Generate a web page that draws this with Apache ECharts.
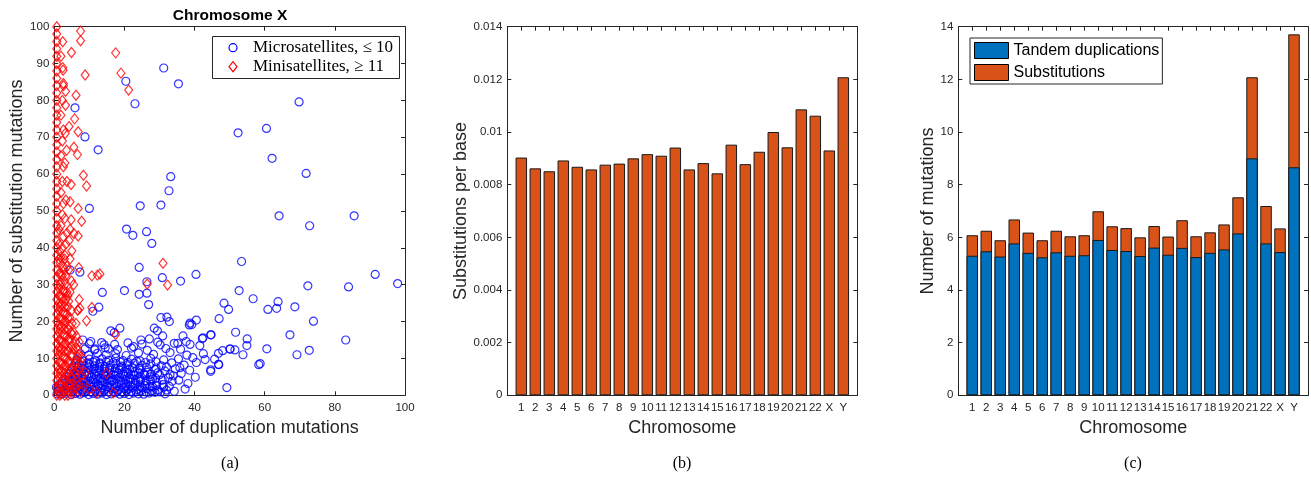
<!DOCTYPE html>
<html>
<head>
<meta charset="utf-8">
<script src="https://cdn.jsdelivr.net/npm/echarts@6/dist/echarts.min.js"></script>
<style>
  html, body { margin: 0; padding: 0; background: #fff; }
  #chart { width: 1311px; height: 478px; }
</style>
</head>
<body>
<div id="chart"></div>
<script>
// ---------------- DATA ----------------
const chromosomes = ['1','2','3','4','5','6','7','8','9','10','11','12','13','14','15','16','17','18','19','20','21','22','X','Y'];

// (b) substitutions per base
const subsPerBase = [0.00903,0.00862,0.00851,0.00892,0.00868,0.00858,0.00876,0.00880,0.00900,0.00916,0.00910,0.00941,
                     0.00858,0.00882,0.00843,0.00952,0.00878,0.00925,0.01000,0.00942,0.01086,0.01062,0.00930,0.01208];

// (c) stacked number of mutations
const tandemDuplications = [5.30,5.47,5.27,5.77,5.41,5.24,5.43,5.30,5.32,5.90,5.52,5.48,
                            5.29,5.61,5.34,5.60,5.25,5.41,5.54,6.15,9.00,5.77,5.44,8.66];
const substitutionsCount = [0.78,0.78,0.62,0.91,0.77,0.65,0.82,0.74,0.76,1.09,0.90,0.87,
                            0.71,0.82,0.69,1.05,0.79,0.78,0.95,1.37,3.08,1.42,0.90,5.05];

// (a) scatter, Chromosome X: [duplication mutations, substitution mutations]
const microsatellites = [
  [31.2,88.8],[35.4,84.5],[20.4,85.2],[23.0,79.1],[5.9,78.0],[69.8,79.6],[8.75,70.1],[12.5,66.6],[52.4,71.2],[60.5,72.4],
  [62.1,64.3],[71.8,60.2],[33.2,59.3],[32.7,55.5],[10.0,50.7],[24.5,51.4],[30.4,51.6],[64.1,48.7],[85.5,48.7],[72.8,46.0],
  [20.6,45.1],[26.3,44.4],[22.4,43.4],[27.8,41.2],[4.5,34.0],[7.3,33.4],[24.2,34.7],[53.4,36.3],[40.4,32.8],[30.8,31.9],
  [36.0,31.0],[91.5,32.8],[97.9,30.3],[72.3,29.7],[83.9,29.4],[26.4,30.8],[26.4,27.7],[24.2,27.4],[20.0,28.4],[13.7,27.9],
  [52.7,28.4],[56.7,26.2],[26.9,24.6],[48.4,25.0],[49.7,23.3],[63.8,25.4],[63.4,23.6],[60.9,23.3],[68.6,24.0],[12.7,23.9],
  [11.0,22.8],[30.4,21.1],[32.1,21.2],[32.8,20.0],[38.7,19.6],[39.2,19.2],[40.5,20.4],[47.0,20.8],[73.9,20.1],[67.2,16.4],
  [83.1,15.0],[51.7,17.1],[44.6,16.4],[42.2,15.4],[55.0,15.3],[54.9,13.5],[60.6,12.6],[50.1,12.5],[51.5,12.3],[53.8,11.0],
  [69.2,11.0],[72.7,12.2],[46.8,11.4],[46.8,8.4],[58.3,8.3],[58.7,8.6],[44.6,6.9],[49.2,2.1],[37.3,1.7],[38.1,3.2],
  [33.9,5.3],[40.2,4.9],[38.5,19.1],[16.1,17.5],[18.7,18.2],[17.1,17.0],[8.1,15.0],[10.4,14.6],[11.6,12.6],[14.2,13.7],
  [15.4,12.6],[22.6,13.2],[24.7,15.0],[27.1,15.3],[28.5,18.2],[29.4,17.5],[30.9,16.1],[30.2,13.7],[36.7,16.1],[37.6,14.6],
  [35.2,14.1],[38.7,13.8],[42.4,15.6],[44.7,16.4],[41.5,13.5],[45.7,9.8],[46.9,8.3],[44.6,6.5],[48.0,12.1],[50.1,12.6],
  [2.1,0.3],[3.4,0.6],[4.8,0.2],[6.1,0.5],[7.3,0.3],[8.6,0.7],[9.8,0.2],[11.1,0.5],[12.3,0.3],[13.6,0.6],[14.9,0.2],[16.2,0.4],
  [17.4,0.7],[18.7,0.3],[20.0,0.5],[21.3,0.2],[22.6,0.6],[24.0,0.4],[25.5,0.3],[27.1,0.6],[28.7,0.8],[30.3,0.9],[31.6,0.4],[34.2,1.1],
  [1.6,1.9],[2.8,1.6],[4.1,2.0],[5.4,1.7],[6.7,2.1],[8.0,1.6],[9.3,1.9],[10.6,2.2],[11.9,1.7],[13.2,2.0],[14.5,1.6],[15.8,2.1],
  [17.1,1.8],[18.4,1.5],[19.7,2.0],[21.0,1.7],[22.3,2.2],[23.6,1.6],[25.0,2.0],[26.4,1.8],[28.0,2.3],[29.5,1.5],[32.8,2.4],
  [2.2,3.2],[3.3,3.5],[4.6,3.1],[5.9,3.6],[7.2,3.3],[8.6,3.7],[9.9,3.2],[11.2,3.5],[12.5,3.0],[13.8,3.6],[15.1,3.3],[16.5,3.8],
  [17.8,3.2],[19.1,3.5],[20.4,3.1],[21.8,3.6],[23.1,3.3],[24.5,3.7],[26.0,3.2],[27.5,3.9],[29.2,3.4],[31.0,2.9],[35.5,4.1],
  [3.9,5.0],[5.3,4.7],[6.6,5.2],[8.0,4.8],[9.3,5.3],[10.6,4.9],[12.0,5.1],[13.3,4.6],[14.6,5.2],[16.0,4.8],[17.3,5.4],[18.6,4.9],
  [20.0,5.1],[21.4,4.7],[22.8,5.3],[24.2,4.9],[25.7,5.5],[27.3,5.0],[28.9,4.6],[30.0,5.6],[32.5,4.8],[36.2,5.9],
  [4.8,6.6],[6.2,6.3],[7.6,6.8],[9.0,6.4],[10.3,6.9],[11.7,6.5],[13.0,7.0],[14.4,6.4],[15.8,6.8],[17.2,6.3],[18.6,6.9],[20.0,6.5],
  [21.5,7.1],[23.0,6.4],[24.6,6.8],[26.5,6.2],[28.8,7.0],[31.5,6.6],[34.5,7.2],[38.6,6.8],
  [5.5,8.0],[7.0,8.3],[8.5,7.9],[10.0,8.4],[11.5,8.0],[13.0,8.5],[14.5,7.8],[16.0,8.2],[17.6,8.6],[19.2,7.9],[21.0,8.3],[22.8,8.7],
  [25.0,8.1],[27.5,8.5],[30.5,8.0],[33.5,8.8],[37.0,8.2],[40.5,8.9],
  [6.5,9.6],[8.2,9.3],[10.0,9.8],[11.8,9.4],[13.6,9.9],[15.5,9.5],[17.5,10.1],[19.6,9.4],[22.0,9.8],[24.5,9.3],[27.5,10.0],[31.2,9.6],
  [35.4,9.9],[39.5,10.2],[43.0,9.7],
  [7.5,11.2],[9.8,10.9],[12.3,11.4],[14.8,11.0],[17.5,11.3],[20.5,10.8],[24.0,11.5],[28.3,11.1],[33.0,11.6],[37.8,10.9],[42.5,11.3],
  [8.8,12.6],[11.5,12.3],[14.5,12.9],[18.0,12.4],[22.0,12.8],[26.5,12.2],[31.8,12.7],[36.0,12.5],
  [10.0,14.0],[13.5,14.3],[17.2,13.8],[21.0,14.2],[25.0,13.9],[29.5,14.4],[34.2,14.1],
  [2.7,1.1],[4.0,1.0],[5.4,1.2],[6.7,0.9],[8.0,1.1],[9.2,1.3],[10.4,0.9],[11.7,1.2],[13.0,1.0],[14.2,1.3],[15.5,0.9],[16.8,1.1],
  [18.0,1.2],[19.3,0.9],[20.6,1.3],[21.9,1.0],[23.3,1.1],[24.7,1.3],[26.2,0.9],[27.8,1.2],[29.5,1.0],[32.0,1.4],
  [2.1,2.6],[3.5,2.5],[4.8,2.8],[6.1,2.4],[7.4,2.7],[8.7,2.5],[10.0,2.8],[11.3,2.4],[12.6,2.6],[13.9,2.8],[15.2,2.4],[16.5,2.7],
  [17.8,2.5],[19.1,2.8],[20.4,2.4],[21.7,2.6],[23.0,2.8],[24.4,2.5],[25.8,2.7],[27.3,2.4],[29.0,2.6],[31.2,2.2],
  [3.0,4.2],[4.3,4.0],[5.6,4.4],[7.0,4.1],[8.3,4.3],[9.6,3.9],[11.0,4.2],[12.3,4.4],[13.6,4.0],[15.0,4.3],[16.3,4.1],[17.6,4.4],
  [19.0,4.0],[20.3,4.2],[21.7,4.4],[23.1,4.1],[24.6,4.3],[26.2,4.0],[28.0,4.4],[30.8,4.1],[33.6,3.8],
  [4.4,5.8],[5.8,5.6],[7.2,6.0],[8.6,5.7],[10.0,5.9],[11.4,5.6],[12.8,6.0],[14.1,5.7],[15.5,5.9],[16.9,5.6],[18.3,6.0],[19.7,5.7],
  [21.1,5.9],[22.5,5.6],[24.0,6.0],[25.6,5.8],[27.5,5.7],[29.5,6.1],[33.0,5.6],
  [5.2,7.3],[6.8,7.5],[8.3,7.2],[9.8,7.4],[11.3,7.1],[12.8,7.5],[14.3,7.2],[15.8,7.4],[17.4,7.3],[19.0,7.5],[20.6,7.2],[22.3,7.4],
  [24.2,7.3],[26.3,7.6],[29.0,7.4],[32.0,7.7],[35.8,7.5],
  [6.0,8.8],[7.8,8.9],[9.5,8.7],[11.2,9.0],[13.0,8.8],[14.8,9.1],[16.8,8.9],[18.8,9.0],[21.0,8.9],[23.5,9.2],[26.0,8.9],[29.0,9.1],
  [0.8,0.4],[1.2,1.2],[0.6,2.2],[1.4,3.0]
];

const minisatellites = [
  [0.7,0],[0.7,2],[0.7,4],[0.7,6],[0.7,8],[0.7,10],[0.7,12],[0.7,14],[0.7,16],[0.7,18],[0.7,20],[0.7,22],[0.7,24],[0.7,26],
  [0.7,28],[0.7,30],[0.7,32],[0.7,34],[0.7,36],[0.7,38],[0.7,40],[0.7,42],[0.7,44],[0.7,46],[0.7,48],[0.7,50],[0.7,52],[0.7,54],
  [0.7,56],[0.7,58],[0.7,60],[0.7,62],[0.7,64],[0.7,66],[0.7,68],[0.7,70],[0.7,72],[0.7,74],[0.7,76],[0.7,78],[0.7,80],[0.7,82],
  [0.7,84],[0.7,86],[0.7,88],[0.7,90],[0.7,92],[0.7,94],[0.7,96],[0.7,98],[0.7,100],
  [1.3,1],[1.3,3],[1.3,5],[1.3,7],[1.3,9],[1.3,11],[1.3,13],[1.3,15],[1.3,17],[1.3,19],[1.3,21],[1.3,23],[1.3,25],[1.3,27],[1.3,29],
  [1.3,33],[1.3,37],[1.3,41],[1.3,45],
  [1.9,0.5],[2.3,2.5],[2.6,4.5],[1.9,6.5],[2.3,8.5],[2.6,10.5],[1.9,12.5],[2.3,14.5],[2.6,16.5],[1.9,18.5],[2.3,20.5],[2.6,22.5],
  [1.9,24.5],[2.3,26.5],[2.6,28.5],[1.9,30.5],[2.3,32.5],[2.6,35],[1.9,37.5],[2.3,40],[2.6,43],[1.9,46],[2.3,49],[2.6,52],
  [1.9,55],[2.3,58],[2.6,62],[1.9,65],[2.3,69],[2.6,72],[1.9,76],[2.3,80],[2.6,84],[2.4,88.9],[2.5,88.2],[1.9,92],[2.4,95.9],
  [3.0,0],[3.3,2],[3.6,4],[3.0,6],[3.3,8],[3.6,10],[3.0,12],[3.3,14],[3.6,16],[3.0,18],[3.3,20],[3.6,22],[3.0,24],[3.3,26],
  [3.6,28],[3.0,30],[3.3,32.5],[3.6,35],[3.0,38],[3.3,41],[3.6,44],[3.0,48],[3.3,53],[3.6,58],[3.0,63],[3.5,66.5],[3.1,71],
  [3.2,78.7],[3.2,82.5],[2.6,84.6],
  [4.1,1],[4.5,3],[4.9,5],[4.1,7],[4.5,9],[4.9,11],[4.1,13],[4.5,15],[4.9,17],[4.1,19],[4.5,21],[4.9,23],[4.1,25.5],[4.5,28],
  [4.9,31],[4.1,34],[4.5,37],[5.0,39.2],[4.2,42],[4.5,45],[4.8,47.6],[4.5,52.5],[4.8,57.2],[4.2,72.9],
  [5.3,0.5],[5.8,2.5],[6.3,4.5],[5.5,6.5],[6.0,8.5],[6.6,10.5],[5.4,12.5],[6.0,14.5],[5.6,17],[6.2,19.5],[6.7,23.1],[7.1,26.0],
  [5.5,30],[7.0,34.6],[6.8,43.2],[5.6,43.9],[6.8,50.7],[6.6,65.3],[5.6,67.3],[6.8,71.5],[5.8,75.0],[6.2,81.4],
  [7.5,1.0],[8.3,3.4],[7.8,5.5],[8.8,6.2],[7.4,8.5],[8.0,10.2],[6.8,12.2],[7.1,14.5],[7.3,23.6],[7.8,47.2],[8.3,59.7],[9.2,56.8],
  [8.8,86.9],[7.5,98.8],[7.5,96.2],[4.9,93.0],
  [17.5,92.9],[19.0,87.4],[21.2,82.8],[31.0,35.8],[32.3,29.9],[26.5,30.2],[10.7,32.4],[12.3,32.6],[13.0,32.9],[10.7,23.8],
  [9.2,20.2],[17.5,16.5],[14.9,5.9],[16.8,0.7],[12.1,0.7],[10.0,1.7],[6.7,23.1],
  [1.6,0],[1.6,3],[1.6,6],[1.6,9],[1.6,12],[1.6,15],[1.6,18],[1.6,21],[1.6,24],[1.6,27],[1.6,30],[1.6,33],[1.6,36],[1.6,39],
  [2.9,1],[2.9,4],[2.9,7],[2.9,10],[2.9,13],[2.9,16],[2.9,19],[2.9,22],[2.9,25],[2.9,28],[2.9,31],[2.9,34],[2.9,37],
  [3.9,0],[3.9,3],[3.9,6],[3.9,9],[3.9,12],[3.9,15],[3.9,18],[3.9,21],[3.9,24],[3.9,27],
  [5.1,1.5],[5.1,4.5],[5.1,7.5],[5.1,10.5],[5.1,13.5],[5.1,16.5],[5.1,19.5],
  [6.3,2],[6.3,6],[6.3,9],[6.3,13],[6.3,16],[7.0,3],[7.0,7],[7.0,11]
];

// ---------------- STYLE HELPERS ----------------
const AX = '#262626';
const tickFont = { color: AX, fontSize: 11.5, fontFamily: 'Liberation Sans, Arial, sans-serif' };
const nameFont = { color: AX, fontSize: 18, fontFamily: 'Liberation Sans, Arial, sans-serif' };

function valAxis(o) {
  return Object.assign({
    type: 'value',
    axisLine: { show: true, onZero: false, lineStyle: { color: AX, width: 1 } },
    axisTick: { show: true, inside: true, length: 4, lineStyle: { color: AX } },
    axisLabel: Object.assign({ margin: 5 }, tickFont),
    splitLine: { show: false },
    nameTextStyle: nameFont,
    nameLocation: 'middle'
  }, o);
}
function mirror(o) {
  return valAxis(Object.assign({ axisLabel: { show: false } }, o));
}
const chromLabel = v => (v >= 1 && v <= chromosomes.length) ? chromosomes[v - 1] : '';
const totalMutations = tandemDuplications.map((t, i) => t + substitutionsCount[i]);

const grids = [
  { left: 54.3, top: 26.7, width: 350.7, height: 368.6 },
  { left: 507.3, top: 26.7, width: 350, height: 368.6 },
  { left: 958.3, top: 26.7, width: 351, height: 368.6 }
];

const serifFont = 'Liberation Serif, serif';

const option = {
  animation: false,
  backgroundColor: '#fff',
  title: [
    { text: 'Chromosome X', left: 230, top: 8, textAlign: 'center', padding: 0,
      textStyle: { fontSize: 15.5, fontWeight: 'bold', fontFamily: 'Liberation Sans, Arial, sans-serif', color: '#000' } },
    { text: '(a)', left: 230, top: 456, textAlign: 'center', padding: 0,
      textStyle: { fontSize: 16, fontWeight: 'normal', fontFamily: serifFont, color: '#000' } },
    { text: '(b)', left: 682, top: 456, textAlign: 'center', padding: 0,
      textStyle: { fontSize: 16, fontWeight: 'normal', fontFamily: serifFont, color: '#000' } },
    { text: '(c)', left: 1133, top: 456, textAlign: 'center', padding: 0,
      textStyle: { fontSize: 16, fontWeight: 'normal', fontFamily: serifFont, color: '#000' } }
  ],
  legend: [
    {
      left: 970, top: 38, orient: 'vertical', padding: [4, 3, 3, 4], itemGap: 5,
      itemWidth: 34, itemHeight: 16,
      borderColor: AX, borderWidth: 1, backgroundColor: '#fff',
      textStyle: { fontSize: 16, fontFamily: 'Liberation Sans, Arial, sans-serif', color: '#000' },
      data: [
        { name: 'Tandem duplications', icon: 'rect', itemStyle: { color: '#0072BD', borderColor: '#000', borderWidth: 1 } },
        { name: 'Substitutions', icon: 'rect', itemStyle: { color: '#D95319', borderColor: '#000', borderWidth: 1 } }
      ]
    }
  ],
  // legend box of panel (a), MATLAB style (marker + LaTeX-like text)
  graphic: [
    { type: 'rect', z: 100, shape: { x: 212.5, y: 36.5, width: 187, height: 42 },
      style: { fill: '#fff', stroke: AX, lineWidth: 1 } },
    { type: 'circle', z: 101, shape: { cx: 233, cy: 47.7, r: 4 },
      style: { fill: 'none', stroke: '#0000ff', lineWidth: 1.2 } },
    { type: 'polygon', z: 101, shape: { points: [[233, 61.7], [237, 66.7], [233, 71.7], [229, 66.7]] },
      style: { fill: 'none', stroke: '#ff0000', lineWidth: 1.2 } },
    { type: 'text', z: 101, x: 253, y: 47.7,
      style: { text: 'Microsatellites, ≤ 10', fontSize: 17, fontFamily: serifFont, fill: '#000', verticalAlign: 'middle' } },
    { type: 'text', z: 101, x: 253, y: 66.7,
      style: { text: 'Minisatellites, ≥ 11', fontSize: 17, fontFamily: serifFont, fill: '#000', verticalAlign: 'middle' } }
  ],
  grid: grids,
  xAxis: [
    valAxis({ gridIndex: 0, min: 0, max: 100, interval: 20, name: 'Number of duplication mutations', nameGap: 24,
              axisLabel: Object.assign({ margin: 7 }, tickFont) }),
    mirror({ gridIndex: 0, position: 'top', min: 0, max: 100, interval: 20 }),
    valAxis({ gridIndex: 1, min: 0, max: 25, interval: 1, name: 'Chromosome', nameGap: 24,
              axisLabel: Object.assign({ margin: 7, formatter: chromLabel }, tickFont) }),
    mirror({ gridIndex: 1, position: 'top', min: 0, max: 25, interval: 1 }),
    valAxis({ gridIndex: 2, min: 0, max: 25, interval: 1, name: 'Chromosome', nameGap: 24,
              axisLabel: Object.assign({ margin: 7, formatter: chromLabel }, tickFont) }),
    mirror({ gridIndex: 2, position: 'top', min: 0, max: 25, interval: 1 })
  ],
  yAxis: [
    valAxis({ gridIndex: 0, min: 0, max: 100, interval: 10, name: 'Number of substitution mutations', nameGap: 27 }),
    mirror({ gridIndex: 0, position: 'right', min: 0, max: 100, interval: 10 }),
    valAxis({ gridIndex: 1, min: 0, max: 0.014, interval: 0.002, name: 'Substitutions per base', nameGap: 33 }),
    mirror({ gridIndex: 1, position: 'right', min: 0, max: 0.014, interval: 0.002 }),
    valAxis({ gridIndex: 2, min: 0, max: 14, interval: 2, name: 'Number of mutations', nameGap: 20 }),
    mirror({ gridIndex: 2, position: 'right', min: 0, max: 14, interval: 2 })
  ],
  series: [
    {
      name: 'Microsatellites, ≤ 10', type: 'scatter', xAxisIndex: 0, yAxisIndex: 0,
      symbol: 'circle', symbolSize: 8,
      itemStyle: { color: 'rgba(0,0,0,0)', borderColor: '#0000ff', borderWidth: 1.2 },
      data: microsatellites
    },
    {
      name: 'Minisatellites, ≥ 11', type: 'scatter', xAxisIndex: 0, yAxisIndex: 0,
      symbol: 'diamond', symbolSize: [8, 10],
      itemStyle: { color: 'rgba(0,0,0,0)', borderColor: '#ff0000', borderWidth: 1.2 },
      data: minisatellites
    },
    {
      name: 'Substitutions per base', type: 'bar', xAxisIndex: 2, yAxisIndex: 2, barWidth: 11.5,
      itemStyle: { color: '#D95319', borderColor: '#1a1a1a', borderWidth: 1 },
      data: chromosomes.map((c, i) => [i + 1, subsPerBase[i]])
    },
    {
      // substitutions stacked on top of tandem duplications: bar spans 0..total, tandem drawn over it
      name: 'Substitutions', type: 'bar', xAxisIndex: 4, yAxisIndex: 4, barWidth: 11.5, barGap: '-100%', z: 2,
      itemStyle: { color: '#D95319', borderColor: '#1a1a1a', borderWidth: 1 },
      data: chromosomes.map((c, i) => [i + 1, totalMutations[i]])
    },
    {
      name: 'Tandem duplications', type: 'bar', xAxisIndex: 4, yAxisIndex: 4, barWidth: 11.5, barGap: '-100%', z: 3,
      itemStyle: { color: '#0072BD', borderColor: '#1a1a1a', borderWidth: 1 },
      data: chromosomes.map((c, i) => [i + 1, tandemDuplications[i]])
    }
  ]
};

const chart = echarts.init(document.getElementById('chart'), null, { renderer: 'canvas' });
chart.setOption(option);
</script>
</body>
</html>
